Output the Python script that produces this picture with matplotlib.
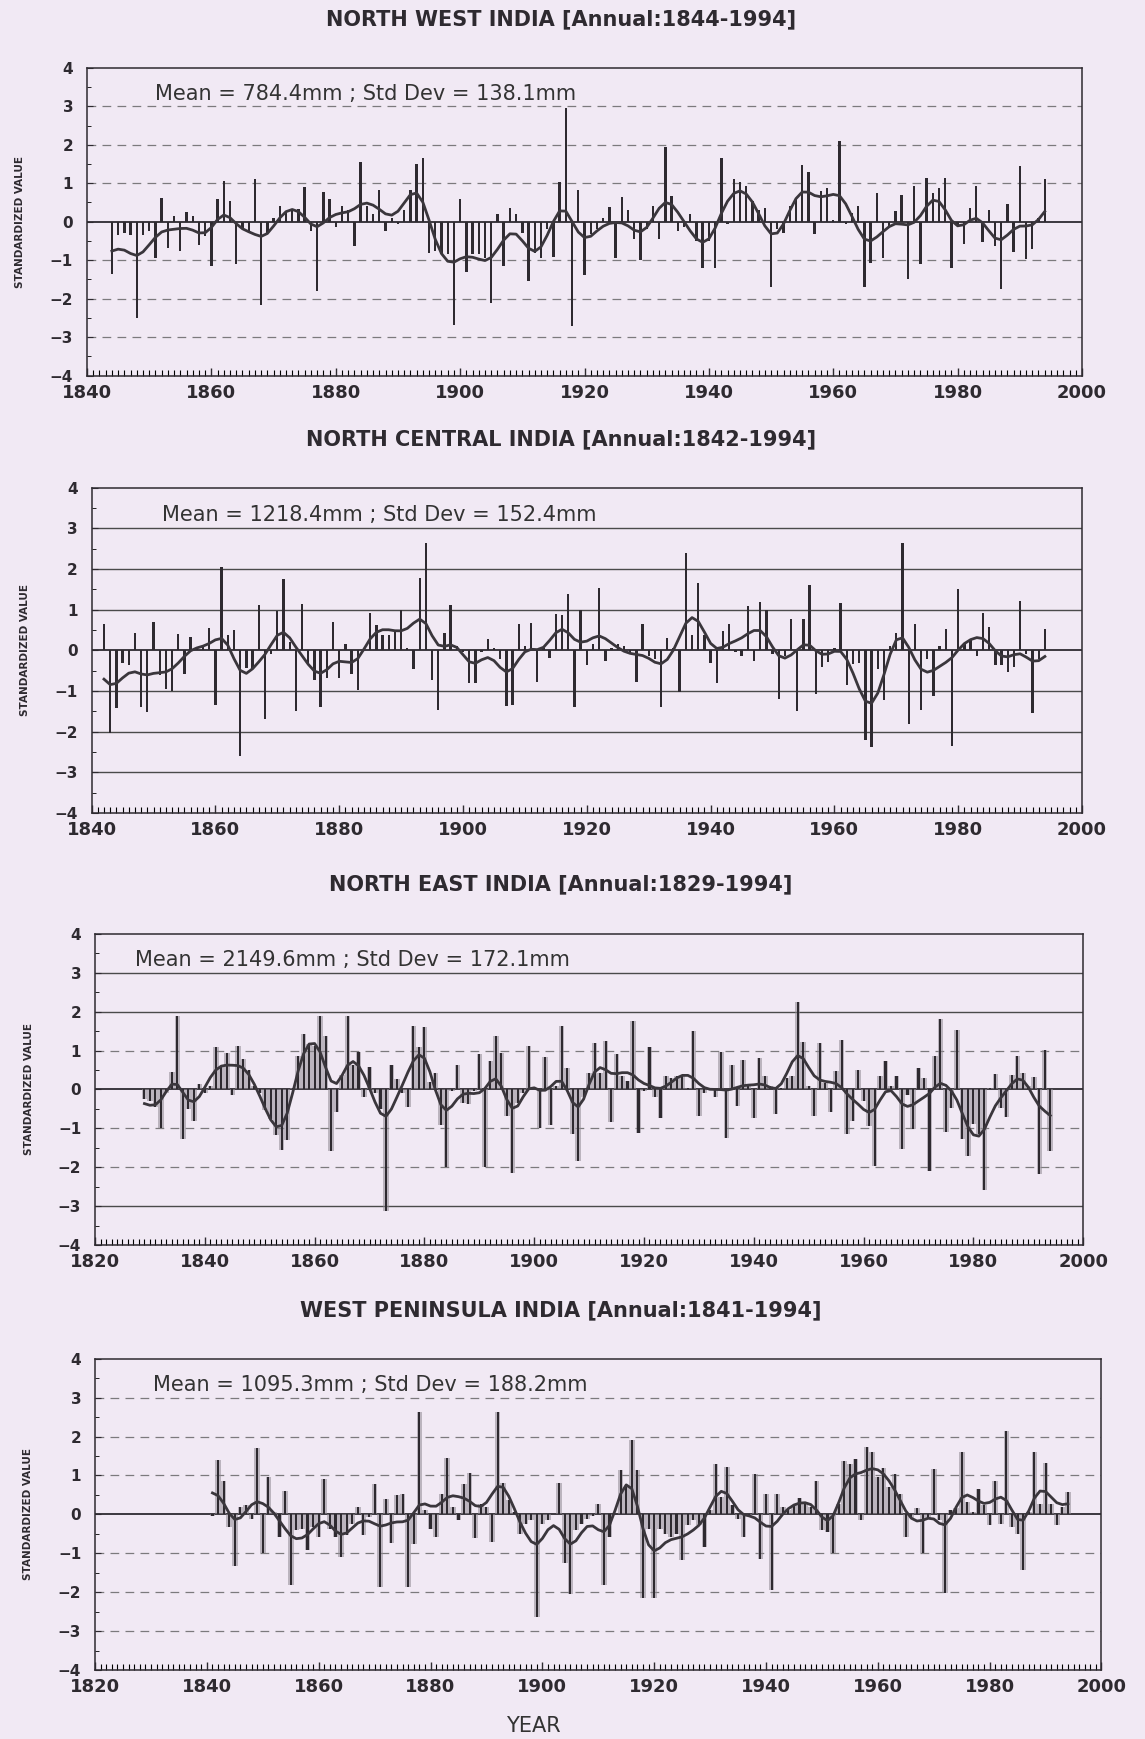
import numpy as np
import matplotlib.pyplot as plt
from matplotlib.ticker import MultipleLocator

# standardized annual rainfall
nw_start = 1844
nw_vals = [-1.35, -0.35, -0.3, -0.35, -2.5, -0.35, -0.25, -0.95, 0.62, -0.68,
           0.15, -0.75, 0.25, 0.15, -0.6, -0.37, -1.15, 0.6, 1.05, 0.55,
           -1.1, -0.2, -0.3, 1.1, -2.17, -0.3, 0.1, 0.42, 0.25, 0.3,
           0.33, 0.9, -0.24, -1.8, 0.77, 0.6, -0.15, 0.42, 0.3, -0.63,
           1.56, 0.42, 0.2, 0.82, -0.24, 0.1, -0.05, 0.3, 0.82, 1.5, 1.65,
           -0.8, -0.75, -0.85, -0.85, -2.68, 0.58, -1.3, -0.85, -0.85, -0.95,
           -2.1, 0.2, -1.15, 0.36, 0.2, -0.3, -1.53, -0.8, -0.95, -0.2,
           -0.92, 1.04, 2.96, -2.7, 0.82, -1.38, -0.32, -0.2, 0.1, 0.38,
           -0.95, 0.65, 0.3, -0.45, -1.0, -0.2, 0.42, -0.45, 1.93, 0.66,
           -0.24, -0.15, 0.2, -0.5, -1.2, -0.5, -1.2, 1.65, -0.05, 1.1,
           1.04, 0.92, 0.55, 0.3, 0.35,
           -1.7, -0.2, -0.3, 0.4, 0.58, 1.48, 1.3, -0.33, 0.8, 0.88,
           0.05, 2.1, -0.05, 0.23, 0.4, -1.7, -1.06, 0.75, -0.93, -0.15,
           0.28, 0.7, -1.5, 0.94, -1.1, 1.14, 0.75, 0.88, 1.14, -1.19,
           -0.1, -0.59, 0.36, 0.94, -0.54, 0.3, -0.63, -1.75, 0.45, -0.78,
           1.44, -0.97, -0.72, 0.1, 1.1]

nc_start = 1842
nc_vals = [0.65, -2.03, -1.42, -0.3, -0.35, 0.43, -1.4, -1.52, 0.7, -0.6,
           -0.95, -1.0, 0.41, -0.58, 0.34, 0.05, 0.1, 0.55, -1.34, 2.04,
           0.38, 0.5, -2.6, -0.43, -0.45, 1.12, -1.7, -0.1, 0.97, 1.75,
           0.2, -1.48, 1.15, -0.35, -0.72, -1.4, -0.68, 0.7, -0.68, 0.16,
           -0.58, -0.98, 0.05, 0.93, 0.63, 0.38, 0.38, 0.5, 1.0, 0.05, -0.46,
           1.78, 2.64, -0.72, -1.46, 0.43, 1.12, 0.1, -0.05, -0.8, -0.8,
           -0.05, 0.28, 0.05, -0.2, -1.38, -1.34, 0.65, 0.1, 0.67, -0.78,
           0.05, -0.19, 0.9, 0.88, 1.39, -1.4, 1.0, -0.35, 0.15, 1.53,
           -0.25, 0.05, 0.15, 0.1, -0.1, -0.78, 0.65, -0.15, -0.2, -1.4,
           0.3, 0.05, -1.02, 2.39, 0.38, 1.66, 0.38, -0.31, -0.8, 0.47,
           0.65, -0.05, -0.15, 1.1, -0.25, 1.2,
           1.0, -0.1, -1.19, -0.15, 0.78, -1.48, 0.78, 1.62, -1.08, -0.4,
           -0.29, 0.05, 1.16, -0.86, -0.33, -0.3, -2.2, -2.38, -0.45, -1.23,
           0.1, 0.43, 2.64, -1.8, 0.66, -1.46, -0.2, -1.13, 0.1, 0.52,
           -2.36, 1.52, 0.15, 0.25, -0.15, 0.92, 0.57, -0.37, -0.35, -0.53,
           -0.4, 1.21, -0.1, -1.54, -0.2, 0.52]

ne_start = 1829
ne_vals = [-0.25, -0.3, -0.45, -1.0, -0.1, 0.45, 1.9, -1.27, -0.5, -0.8,
           0.13, -0.1, 0.1, 1.08, 0.6, 0.93, -0.15, 1.13, 0.79, 0.49,
           0.1, -0.1, -0.54, -0.75, -1.18, -1.56, -1.3, 0.05, 0.87, 1.43,
           1.17, 1.13, 1.9, 1.38, -1.59, -0.58, 0.36, 1.88, 0.62, 0.96,
           -0.2, 0.57, -0.1, -0.5, -3.13, 0.62, 0.27, -0.1, -0.45, 1.64,
           1.1, 1.6,
           0.2, 0.43, -0.9, -2.0, -0.05, 0.64, -0.34, -0.37, -0.05, 0.9,
           -2.0, 0.73, 1.37, 0.94, -0.68, -2.14, -0.34, -0.1, 1.11, 0.05,
           -0.98, 0.83, -0.91, 0.1, 1.62, 0.56, -1.15, -1.85, -0.2, 0.43,
           1.2, 0.43, 1.24, -0.84, 0.91, 0.35, 0.22, 1.77, -1.11, -0.05,
           1.09, -0.2, -0.73, 0.35, 0.3, 0.35, 0.38, 0.05, 1.5, -0.68,
           -0.1, 0.05, -0.2, 0.96, -1.24, 0.62, -0.43, 0.77, 0.1, -0.74,
           0.81,
           0.34, 0.1, -0.64, 0.05, 0.3, 0.34, 2.25, 1.21, 0.1, -0.68,
           1.19, 0.17, -0.58, 0.47, 1.27, -1.14, -0.8, 0.49, -0.3, -0.93,
           -1.97, 0.34, 0.74, 0.1, 0.34, -1.54, -0.15, -1.02, 0.55, 0.3,
           -2.09, 0.85, 1.8, -1.1, -0.47, 1.53, -1.27, -1.7, -0.89, -1.14,
           -2.58, 0.05, 0.4, -0.47, -0.7, 0.38, 0.87, 0.42, 0.1, 0.31,
           -2.16, 1.02, -1.57]

wp_start = 1841
wp_vals = [-0.05, 1.4, 0.85, -0.32, -1.33, 0.19, 0.25, -0.11, 1.7, -1.0,
           0.96, 0.05, -0.58, 0.59, -1.82, -0.41, -0.37, -0.92, -0.32, -0.58,
           0.91, -0.37, -0.58, -1.09, -0.54, -0.24, 0.19, -0.54, -0.07, 0.77,
           -1.86, 0.4, -0.74, 0.49, 0.53, -1.86, -0.75, 2.62,
           0.1, -0.37, -0.58, 0.53, 1.44, 0.19, -0.15, 0.79, 1.07, -0.62,
           0.27, 0.2, -0.71, 2.62, 0.8, 0.36, 0.05, -0.5, -0.24, -0.15,
           -2.63, -0.24, -0.15, 0.0, 0.8, -1.26, -2.05, -0.41, -0.24, -0.11,
           -0.05, 0.27, -1.82, -0.58, 0.0, 1.15, 0.7, 1.9, 1.15, -2.16,
           -0.37, -2.14, -0.37, -0.5, -0.58, -0.5, -1.18, -0.28, -0.15, -0.28,
           -0.84, 0.1, 1.3, 0.44, 1.21, 0.23, -0.11, -0.58, -0.05, 1.03,
           -1.14, 0.53, -1.95, 0.53,
           0.19, 0.1, 0.23, 0.42, 0.27, 0.19, 0.85, -0.41, -0.45, -1.0,
           0.27, 1.38, 1.3, 1.43, -0.15, 1.72, 1.6, 0.96, 1.19, 0.7,
           1.04, 0.53, -0.58, -0.1, 0.15, -1.0, -0.1, 1.17, -0.15, -2.03,
           0.1, 0.15, 1.6, 0.32, 0.05, 0.66, 0.23, -0.28, 0.85, -0.26,
           2.13, -0.32, -0.5, -1.44, 0.05, 1.6, 0.27, 1.32, 0.27, -0.28,
           0.19, 0.57]

titles = ['NORTH WEST INDIA [Annual:1844-1994]',
          'NORTH CENTRAL INDIA [Annual:1842-1994]',
          'NORTH EAST INDIA [Annual:1829-1994]',
          'WEST PENINSULA INDIA [Annual:1841-1994]']
stats = ['Mean = 784.4mm ; Std Dev = 138.1mm',
         'Mean = 1218.4mm ; Std Dev = 152.4mm',
         'Mean = 2149.6mm ; Std Dev = 172.1mm',
         'Mean = 1095.3mm ; Std Dev = 188.2mm']


def smooth(v):
    # 9-point gaussian low pass filter
    w = np.array([0.01, 0.05, 0.12, 0.20, 0.24, 0.20, 0.12, 0.05, 0.01])
    v = np.asarray(v, dtype=float)
    num = np.convolve(v, w, mode='same')
    den = np.convolve(np.ones_like(v), w, mode='same')
    return num / den


bg = '#f1e9f4'
ink = '#2e2a30'
fig = plt.figure(figsize=(11.45, 17.39), dpi=100, facecolor=bg)

panels = [
    (nw_start, nw_vals, 1840, [0.076, 0.784, 0.869, 0.177], 'dash', False, 0.068, 0.915),
    (nc_start, nc_vals, 1840, [0.080, 0.5325, 0.865, 0.187], 'solid', False, 0.071, 0.915),
    (ne_start, ne_vals, 1820, [0.083, 0.284, 0.863, 0.179], 'mixed', True, 0.040, 0.915),
    (wp_start, wp_vals, 1820, [0.083, 0.0397, 0.879, 0.179], 'dash', True, 0.058, 0.915),
]
title_y = [0.989, 0.7475, 0.4915, 0.2465]

for i, (start, vals, x0, pos, gstyle, shade, tx, ty) in enumerate(panels):
    ax = fig.add_axes(pos)
    ax.set_facecolor(bg)
    years = np.arange(start, start + len(vals))

    for g in [3, 2, 1, -1, -2, -3]:
        if gstyle == 'solid' or (gstyle == 'mixed' and g in (3, 2, -3)):
            ax.axhline(g, color='#4a4a4a', lw=1.0, zorder=1)
        else:
            ax.axhline(g, color='#555555', lw=0.9, ls=(0, (7, 5)), alpha=0.75, zorder=1)
    ax.axhline(0, color=ink, lw=1.3, zorder=2)

    if shade:
        ax.bar(years, vals, width=1.0, color='#8f8a92', alpha=0.55, lw=0, zorder=2)
    ax.bar(years, vals, width=0.38, color=ink, lw=0, zorder=3)
    ax.plot(years, smooth(vals), color='#3a363c', lw=2.0, zorder=4)

    ax.set_xlim(x0, 2000)
    ax.set_ylim(-4, 4)
    ax.xaxis.set_major_locator(MultipleLocator(20))
    ax.xaxis.set_minor_locator(MultipleLocator(1))
    ax.yaxis.set_major_locator(MultipleLocator(1))
    ax.yaxis.set_minor_locator(MultipleLocator(0.5))
    ax.tick_params(axis='x', which='major', direction='in', length=6, width=1.0,
                   labelsize=13, pad=6, colors=ink)
    ax.tick_params(axis='x', which='minor', direction='in', length=4, width=0.8)
    ax.tick_params(axis='y', which='major', direction='in', length=4, labelsize=11,
                   pad=10, colors=ink)
    ax.tick_params(axis='y', which='minor', direction='in', length=3)
    ax.tick_params(top=False, right=False, which='both')
    for lab in ax.get_xticklabels() + ax.get_yticklabels():
        lab.set_fontweight('bold')
    for s in ax.spines.values():
        s.set_color(ink)
        s.set_linewidth(1.1)

    ax.set_ylabel('STANDARDIZED VALUE', fontsize=7.5, fontweight='bold', color=ink)
    ax.yaxis.set_label_coords(-0.062, 0.5)
    ax.text(tx, ty, stats[i], transform=ax.transAxes, fontsize=15, color='#333333',
            va='center', ha='left', zorder=5)
    fig.text(0.49, title_y[i], titles[i], fontsize=15, fontweight='bold', color=ink,
             ha='center', va='center')

fig.text(0.466, 0.0015, 'YEAR', fontsize=15, color='#333333', ha='center', va='bottom')

fig.savefig('out.png', dpi=100, facecolor=bg)
